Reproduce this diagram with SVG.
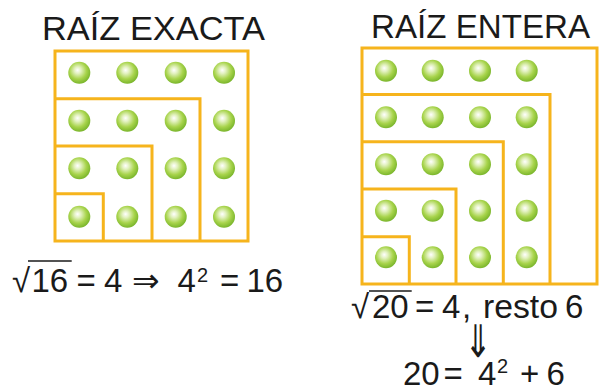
<svg xmlns="http://www.w3.org/2000/svg" width="599" height="390" viewBox="0 0 599 390">
  <defs>
    <radialGradient id="ball" cx="0.45" cy="0.42" r="0.62" fx="0.42" fy="0.38">
      <stop offset="0" stop-color="#ffffff"/>
      <stop offset="0.25" stop-color="#e2f1bf"/>
      <stop offset="0.62" stop-color="#a8d44c"/>
      <stop offset="1" stop-color="#72b026"/>
    </radialGradient>
    <circle id="b" r="11" fill="url(#ball)"/>
  </defs>
  <style>
    .box { fill: none; stroke: #f6b41c; stroke-width: 3; stroke-linejoin: miter; }
    .t { font-family: "Liberation Sans", Arial, "DejaVu Sans", sans-serif; fill: #1a1a1a; }
    .title { font-size: 33px; }
    .eq { font-size: 33px; }
    .sup { font-size: 20px; }
    .arrow { font-size: 30px; }
    .bar { stroke: #1a1a1a; stroke-width: 1.6; }
  </style>
  <rect width="599" height="390" fill="#ffffff"/>

  <g id="title-exacta">
    <text class="t title" x="42" y="40" textLength="223" lengthAdjust="spacingAndGlyphs">RAÍZ EXACTA</text>
  </g>
  <g id="title-entera">
    <text class="t title" x="371" y="37.5" textLength="219" lengthAdjust="spacingAndGlyphs">RAÍZ ENTERA</text>
  </g>

  <g id="grid-exacta">
    <rect class="box" x="55" y="51" width="193" height="190"/>
    <polyline class="box" points="55,98.7 200,98.7 200,241"/>
    <polyline class="box" points="55,146 152,146 152,241"/>
    <polyline class="box" points="55,193.7 103.3,193.7 103.3,241"/>
    <use href="#b" x="79.3" y="72.7"/><use href="#b" x="127.3" y="72.7"/><use href="#b" x="175.7" y="72.7"/><use href="#b" x="224" y="72.7"/>
    <use href="#b" x="79.3" y="120.7"/><use href="#b" x="127.3" y="120.7"/><use href="#b" x="175.7" y="120.7"/><use href="#b" x="224" y="120.7"/>
    <use href="#b" x="79.3" y="168.3"/><use href="#b" x="127.3" y="168.3"/><use href="#b" x="175.7" y="168.3"/><use href="#b" x="224" y="168.3"/>
    <use href="#b" x="79.3" y="216.7"/><use href="#b" x="127.3" y="216.7"/><use href="#b" x="175.7" y="216.7"/><use href="#b" x="224" y="216.7"/>
  </g>

  <g id="grid-entera">
    <rect class="box" x="362" y="48" width="235" height="236"/>
    <polyline class="box" points="362,94.5 550,94.5 550,284"/>
    <polyline class="box" points="362,141.7 503.3,141.7 503.3,284"/>
    <polyline class="box" points="362,189 456,189 456,284"/>
    <polyline class="box" points="362,236.7 409.3,236.7 409.3,284"/>
    <use href="#b" x="386" y="70.7"/><use href="#b" x="432.7" y="70.7"/><use href="#b" x="480" y="70.7"/><use href="#b" x="526.7" y="70.7"/>
    <use href="#b" x="386" y="117.3"/><use href="#b" x="432.7" y="117.3"/><use href="#b" x="480" y="117.3"/><use href="#b" x="526.7" y="117.3"/>
    <use href="#b" x="386" y="164.3"/><use href="#b" x="432.7" y="164.3"/><use href="#b" x="480" y="164.3"/><use href="#b" x="526.7" y="164.3"/>
    <use href="#b" x="386" y="210.7"/><use href="#b" x="432.7" y="210.7"/><use href="#b" x="480" y="210.7"/><use href="#b" x="526.7" y="210.7"/>
    <use href="#b" x="386" y="257.3"/><use href="#b" x="432.7" y="257.3"/><use href="#b" x="480" y="257.3"/><use href="#b" x="526.7" y="257.3"/>
  </g>

  <g id="eq-exacta">
    <line class="bar" x1="28" y1="261" x2="71.7" y2="261"/>
    <text class="t eq" y="292"><tspan x="12">√</tspan><tspan x="31.4">16</tspan><tspan x="76.6">=</tspan><tspan x="104">4</tspan><tspan x="132">⇒</tspan><tspan x="177.5">4</tspan></text>
    <text class="t sup" x="197" y="281.5">2</text>
    <text class="t eq" y="292"><tspan x="220">=</tspan><tspan x="246.4">16</tspan></text>
  </g>

  <g id="eq-entera">
    <line class="bar" x1="369" y1="291" x2="411.7" y2="291"/>
    <text class="t eq" y="318"><tspan x="351">√</tspan><tspan x="372">20</tspan><tspan x="415">=</tspan><tspan x="442">4</tspan><tspan x="462">,</tspan><tspan x="483" textLength="75" lengthAdjust="spacingAndGlyphs">resto</tspan><tspan x="565">6</tspan></text>
  </g>

  <g id="connectors">
    <text class="t arrow" transform="translate(478,357) scale(1.1,1.5)" x="0" y="0" text-anchor="middle">⇓</text>
  </g>

  <g id="eq-entera-2">
    <text class="t eq" y="384.5"><tspan x="403">20</tspan><tspan x="443.5">=</tspan><tspan x="478">4</tspan></text>
    <text class="t sup" x="497" y="373">2</text>
    <text class="t eq" y="384.5"><tspan x="520">+</tspan><tspan x="546.5">6</tspan></text>
  </g>
</svg>
